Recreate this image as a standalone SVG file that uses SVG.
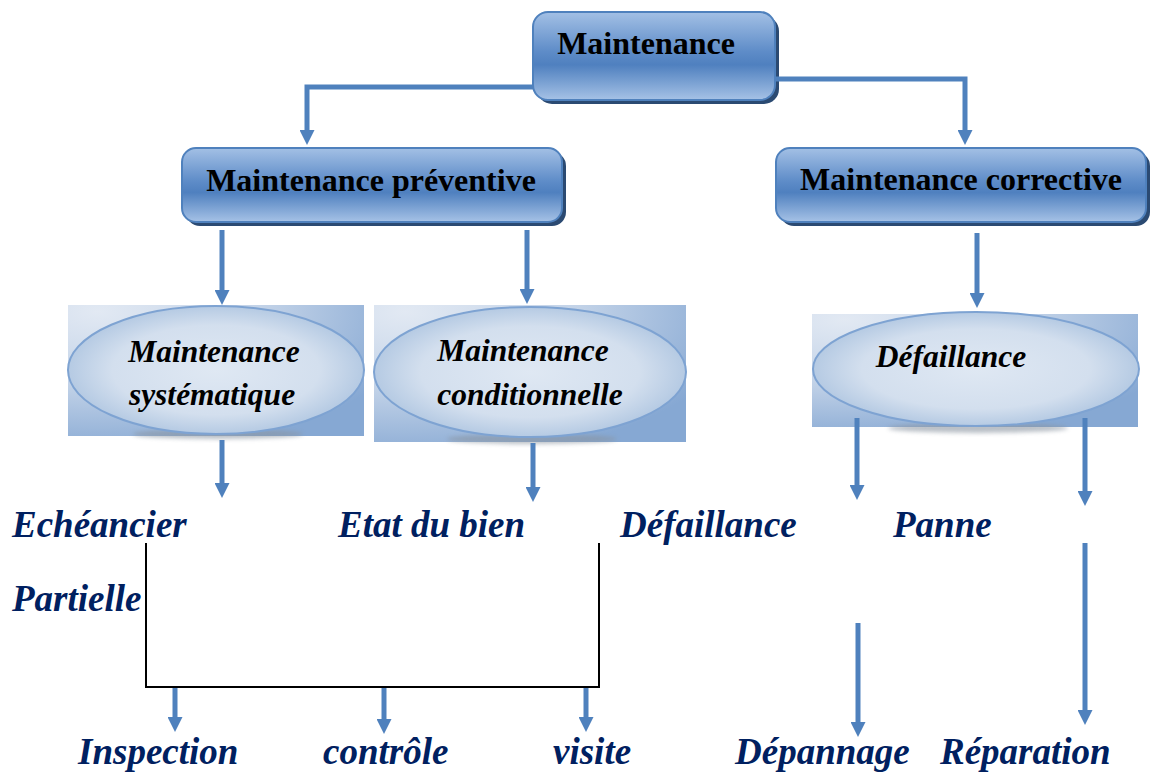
<svg xmlns="http://www.w3.org/2000/svg" width="1151" height="772" viewBox="0 0 1151 772">
<defs>
<linearGradient id="boxg" x1="0" y1="0" x2="0" y2="1">
<stop offset="0" stop-color="#a3c0e5"/>
<stop offset="0.45" stop-color="#5e8cc8"/>
<stop offset="0.6" stop-color="#4f80bf"/>
<stop offset="1" stop-color="#a6c2e6"/>
</linearGradient>
<radialGradient id="rectg" cx="0.1" cy="0.05" r="1.1">
<stop offset="0" stop-color="#e2e9f3"/>
<stop offset="0.5" stop-color="#c3d3e8"/>
<stop offset="1" stop-color="#86a8d3"/>
</radialGradient>
<radialGradient id="ellg" cx="0.5" cy="0.5" r="0.5">
<stop offset="0" stop-color="#dfe8f3"/>
<stop offset="0.7" stop-color="#d3dfee"/>
<stop offset="1" stop-color="#b5cae3"/>
</radialGradient>
<filter id="blur" x="-10%" y="-50%" width="120%" height="200%"><feGaussianBlur stdDeviation="2"/></filter>
<marker id="ah" viewBox="0 0 15 15" refX="1" refY="7.5" markerWidth="15" markerHeight="15" markerUnits="userSpaceOnUse" orient="auto">
<path d="M0,0 L15,7.5 L0,15 z" fill="#4f81bd"/>
</marker>
</defs>
<style>
.box{fill:url(#boxg);stroke:#4f81bd;stroke-width:2}
.shadow{fill:#2b4a72}
.rbg{fill:url(#rectg)}
.ell{fill:url(#ellg);stroke:#7ea3d2;stroke-width:2}
.eshadow{fill:#8a94a0;opacity:0.6;filter:url(#blur)}
.bt{font-family:"Liberation Serif",serif;font-weight:bold;font-size:32px;fill:#000;text-anchor:middle}
.et{font-family:"Liberation Serif",serif;font-weight:bold;font-style:italic;font-size:31.5px;fill:#000;text-anchor:middle}
.lb{font-family:"Liberation Serif",serif;font-weight:bold;font-style:italic;font-size:37px;fill:#002060}
.arr{fill:none;stroke:#4f81bd;stroke-width:5;marker-end:url(#ah)}
.brk{fill:none;stroke:#000;stroke-width:2}
</style>

<g id="n-maintenance">
<rect class="shadow" x="537" y="16" width="242" height="88" rx="15"/>
<rect class="box" x="533" y="12" width="242" height="88" rx="15"/>
<text class="bt" x="646" y="54">Maintenance</text>
</g>

<g id="n-preventive">
<rect class="shadow" x="186" y="152" width="380" height="74" rx="14"/>
<rect class="box" x="182" y="148" width="380" height="74" rx="14"/>
<text class="bt" x="371" y="191">Maintenance préventive</text>
</g>

<g id="n-corrective">
<rect class="shadow" x="780" y="152" width="370" height="74" rx="14"/>
<rect class="box" x="776" y="148" width="370" height="74" rx="14"/>
<text class="bt" x="961" y="190">Maintenance corrective</text>
</g>

<g id="n-systematique">
<rect class="rbg" x="68" y="305" width="296" height="131"/>
<ellipse class="eshadow" cx="218" cy="434" rx="85" ry="5"/>
<ellipse class="ell" cx="216" cy="370" rx="148" ry="64"/>
<text class="et" x="214" y="362">Maintenance</text>
<text class="et" x="212" y="405">systématique</text>
</g>

<g id="n-conditionnelle">
<rect class="rbg" x="374" y="305" width="312" height="137"/>
<ellipse class="eshadow" cx="532" cy="439" rx="85" ry="5"/>
<ellipse class="ell" cx="530" cy="372" rx="156" ry="65"/>
<text class="et" x="523" y="361">Maintenance</text>
<text class="et" x="530" y="405">conditionnelle</text>
</g>

<g id="n-defaillance">
<rect class="rbg" x="812" y="314" width="326" height="113"/>
<ellipse class="eshadow" cx="978" cy="428" rx="90" ry="5"/>
<ellipse class="ell" cx="976" cy="369" rx="163" ry="57"/>
<text class="et" x="951" y="367">Défaillance</text>
</g>

<g id="labels">
<text class="lb" x="12" y="537">Echéancier</text>
<text class="lb" x="338" y="537">Etat du bien</text>
<text class="lb" x="620" y="537">Défaillance</text>
<text class="lb" x="893" y="537">Panne</text>
<text class="lb" x="12" y="611">Partielle</text>
<text class="lb" x="78" y="764">Inspection</text>
<text class="lb" x="323" y="764">contrôle</text>
<text class="lb" x="553" y="764">visite</text>
<text class="lb" x="735" y="764">Dépannage</text>
<text class="lb" x="940" y="764">Réparation</text>
</g>

<g id="connectors">
<path class="arr" d="M533,87 H307 V131"/>
<path class="arr" d="M775,79 H965 V131"/>
<path class="arr" d="M222,230 V291"/>
<path class="arr" d="M527,230 V290"/>
<path class="arr" d="M977,233 V294"/>
<path class="arr" d="M222,440 V484"/>
<path class="arr" d="M533,443 V488"/>
<path class="arr" d="M857,418 V486"/>
<path class="arr" d="M1085,418 V492"/>
<path class="brk" d="M146,543 V687 H599 V543"/>
<path class="arr" d="M175,688 V718"/>
<path class="arr" d="M384,688 V720"/>
<path class="arr" d="M586,688 V718"/>
<path class="arr" d="M858,623 V723"/>
<path class="arr" d="M1085,543 V711"/>
</g>
</svg>
